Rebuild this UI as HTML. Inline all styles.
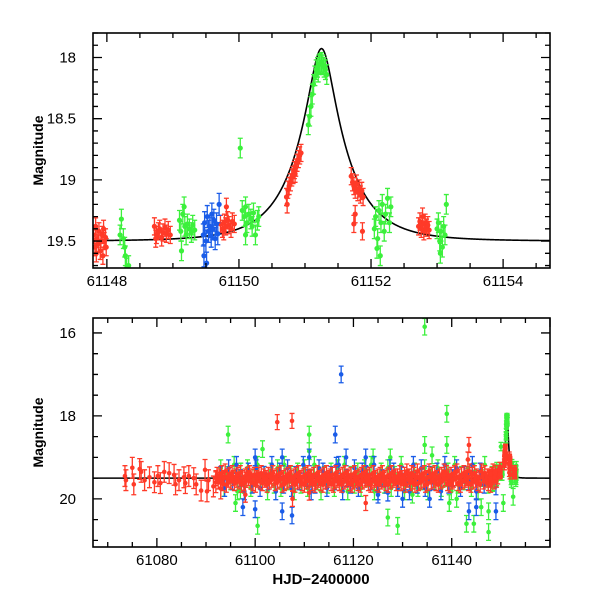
<!DOCTYPE html>
<html><head><meta charset="utf-8"><style>
html,body{margin:0;padding:0;background:#fff}
svg{display:block}
text{font-family:"Liberation Sans",sans-serif;fill:#000}
</style></head><body>
<svg id="chart" width="600" height="600" viewBox="0 0 600 600" xmlns="http://www.w3.org/2000/svg"></svg>
<script>
// ---- data ----
const topRed=[[61147.80,19.45],[61147.82,19.55],[61147.84,19.60],[61147.85,19.48],[61147.87,19.52],[61147.88,19.42],[61147.90,19.58],[61147.91,19.50],[61147.93,19.45],[61147.94,19.62],[61147.96,19.50],[61147.98,19.47],[61147.99,19.55],[61147.83,19.38],[61147.95,19.40],
[61148.72,19.38],[61148.75,19.45],[61148.78,19.42],[61148.80,19.40],[61148.83,19.47],[61148.85,19.43],[61148.88,19.39],[61148.90,19.44],[61148.93,19.41],[61148.96,19.45],[61148.74,19.48],
[61149.72,19.36],[61149.75,19.40],[61149.78,19.35],[61149.80,19.38],[61149.83,19.33],[61149.85,19.37],[61149.88,19.40],[61149.90,19.34],[61149.93,19.36],[61149.81,19.22],[61149.77,19.42],
[61150.72,19.14],[61150.74,19.08],[61150.76,19.05],[61150.78,19.02],[61150.80,18.98],[61150.82,18.96],[61150.84,18.92],[61150.86,18.90],[61150.88,18.86],[61150.90,18.83],[61150.92,18.80],[61150.94,18.78],[61150.73,19.20],[61150.85,18.95],
[61151.70,18.97],[61151.72,19.02],[61151.74,19.05],[61151.76,19.08],[61151.78,19.03],[61151.80,19.10],[61151.82,19.07],[61151.84,19.12],[61151.86,19.09],[61151.88,19.14],[61151.74,19.36],[61151.87,19.42],[61151.76,19.28],
[61152.72,19.38],[61152.74,19.34],[61152.76,19.40],[61152.78,19.36],[61152.80,19.42],[61152.82,19.35],[61152.84,19.39],[61152.86,19.37],[61152.88,19.41],[61152.78,19.30]];
const topGreen=[[61148.20,19.45],[61148.22,19.32],[61148.25,19.48],[61148.27,19.55],[61148.30,19.72],[61148.33,19.70],[61148.28,19.62],
[61149.10,19.33],[61149.12,19.42],[61149.15,19.28],[61149.18,19.38],[61149.20,19.45],[61149.22,19.36],[61149.25,19.40],[61149.28,19.43],[61149.30,19.37],[61149.33,19.41],[61149.13,19.58],[61149.17,19.22],
[61150.02,18.74],[61150.05,19.25],[61150.08,19.30],[61150.10,19.22],[61150.12,19.35],[61150.15,19.28],[61150.18,19.32],[61150.20,19.38],[61150.22,19.27],[61150.25,19.45],[61150.28,19.33],[61150.30,19.30],[61150.10,19.45],
[61151.05,18.55],[61151.07,18.48],[61151.09,18.40],[61151.11,18.30],[61151.13,18.22],[61151.15,18.15],[61151.17,18.10],[61151.19,18.08],[61151.21,18.06],[61151.23,18.05],[61151.25,18.04],[61151.27,18.06],[61151.29,18.08],[61151.31,18.10],[61151.33,18.14],[61151.20,18.12],
[61152.05,19.40],[61152.07,19.30],[61152.10,19.48],[61152.12,19.25],[61152.15,19.35],[61152.17,19.20],[61152.20,19.42],[61152.22,19.28],[61152.25,19.15],[61152.28,19.35],[61152.30,19.22],[61152.14,19.62],[61152.09,19.56],
[61153.00,19.40],[61153.02,19.35],[61153.04,19.50],[61153.06,19.42],[61153.08,19.55],[61153.10,19.38],[61153.12,19.45],[61153.14,19.20],[61153.05,19.60]];
const topBlue=[[61149.46,19.45],[61149.48,19.35],[61149.50,19.50],[61149.52,19.30],[61149.54,19.42],[61149.56,19.38],[61149.58,19.46],[61149.60,19.40],[61149.62,19.33],[61149.64,19.48],[61149.66,19.36],[61149.68,19.44],[61149.70,19.20],[61149.47,19.62],[61149.51,19.68],[61149.59,19.28]];
const earlyRed=[[61073.5,19.45],[61073.7,19.55],[61075,19.25],[61075.3,19.65],[61076.5,19.28],[61076.8,19.35],[61077.5,19.55],[61078.5,19.48],[61079.5,19.6],[61080.2,19.45],[61080.7,19.62],[61081.5,19.35],[61082.5,19.38],[61083.5,19.42],[61083.8,19.65],[61084.5,19.55],[61085.5,19.48],[61085.8,19.62],[61086.5,19.45],[61087.5,19.5],[61088,19.65],[61089,19.8],[61089.8,19.3],[61090.2,19.82],[61090.5,19.55],[61091.5,19.7],[61092,19.6],[61093,19.75]];
const denseStart=61092, denseStep=0.237;
const redDigits="537462851946372584637295846352748395637284659374625847362958473625849372658493726548397265849372654839726584937265483972658493726548397265849372658493726548462857391648273951847362958147362859473615284937625184937265481937264859137264859317264";
const blueStart=61093, blueStep=0.8;
const blueDigits="48261593728461937284615972384619572834619572384691728463917528461937";
const greenStart=61093, greenStep=0.68;
const greenDigits="284619372851649372816493728516947382619473825196372846195738629462853917462839517";
const bottomOutliers={red:[[61104.5,18.15],[61107.5,18.12],[61107.6,20.0],[61143.5,18.7],[61143.3,19.05],[61122.5,20.1],[61098,19.9],[61111,19.85]],
blue:[[61117.5,17.0],[61116.3,18.45],[61116.5,19.2],[61118.5,19.0],[61097.5,20.2],[61100,20.25],[61105.5,20.3],[61107.5,20.4],[61122.5,19.0],[61127,19.85],[61130,20.0],[61135.5,20.0],[61143.5,20.3],[61145,20.2],[61149,20.3],[61149,19.7],[61100,19.0],[61105.5,19.0],[61111,19.0],[61125,19.9]],
green:[[61134.5,15.85],[61094.5,18.45],[61111,18.45],[61111,18.85],[61101.5,18.8],[61134.5,18.7],[61139,17.95],[61139,18.7],[61136,18.95],[61124,19.0],[61127.5,19.0],[61096,20.1],[61100.5,20.65],[61129,20.65],[61127,20.45],[61143,20.6],[61144.5,20.6],[61147.5,20.8],[61147.5,20.3],[61139.5,20.1],[61141,20.0],[61146,20.2],[61150.5,20.1],[61152.5,19.95],[61132,19.9],[61097,19.8]]};
// ---- drawing ----
const svg=document.getElementById('chart');
const NS='http://www.w3.org/2000/svg';
const COL={red:'#ff3a28',green:'#3cf03c',blue:'#1a5ce8'};
function mk(tag,attrs,parent){const e=document.createElementNS(NS,tag);for(const k in attrs)e.setAttribute(k,attrs[k]);(parent||svg).appendChild(e);return e;}
function model(t){const u0=0.24,tE=0.75,t0=61151.25;const u=Math.sqrt(u0*u0+((t-t0)/tE)**2);const A=(u*u+2)/(u*Math.sqrt(u*u+4));return 19.5-2.5*Math.log10(A);}
function panel(cfg){
  const g=mk('g',{});
  
  
  const X=t=>cfg.L+(t-cfg.x0)/(cfg.x1-cfg.x0)*(cfg.R-cfg.L);
  const Y=m=>cfg.T+(m-cfg.y0)/(cfg.y1-cfg.y0)*(cfg.B-cfg.T);
  const clip='clip-'+cfg.name;
  const cp=mk('clipPath',{id:clip},g);mk('rect',{x:cfg.L,y:cfg.T,width:cfg.R-cfg.L,height:cfg.B-cfg.T},cp);
  const plot=mk('g',{'clip-path':'url(#'+clip+')'},g);
  let d='';for(let t=cfg.x0;t<=cfg.x1;t+=(cfg.x1-cfg.x0)/1500){d+=(d?'L':'M')+X(t).toFixed(2)+','+Y(model(t)).toFixed(2);}
  const mc=mk('path',{d:d,fill:'none',stroke:'#000','stroke-width':1.6},plot);
  
  
  cfg.series.forEach(s=>{
    const sg=mk('g',{stroke:COL[s.c],fill:COL[s.c],'stroke-width':1.3},plot);
    
    
    s.pts.forEach(p=>{
      const x=X(p[0]),y=Y(p[1]),e=p[2]||s.e;
      const ya=Y(p[1]-e),yb=Y(p[1]+e);
      mk('path',{d:`M${x},${ya}V${yb}M${x-2.5},${ya}h5M${x-2.5},${yb}h5`,fill:'none'},sg);
      const c=mk('circle',{cx:x,cy:y,r:cfg.r,stroke:'none'},sg);
      
      
    });
  });
  mk('rect',{x:cfg.L,y:cfg.T,width:cfg.R-cfg.L,height:cfg.B-cfg.T,fill:'none',stroke:'#000','stroke-width':1.6},g);
  let td='';
  const eps=1e-6;
  for(let v=Math.ceil(cfg.x0/cfg.xm)*cfg.xm;v<=cfg.x1;v+=cfg.xm){const x=X(v);const maj=Math.abs(v/cfg.xM-Math.round(v/cfg.xM))<eps;const l=maj?9:5;td+=`M${x},${cfg.B}v${-l}M${x},${cfg.T}v${l}`;}
  for(let v=Math.ceil(cfg.y0/cfg.ym-eps)*cfg.ym;v<=cfg.y1;v+=cfg.ym){const y=Y(v);const maj=Math.abs(v/cfg.yM-Math.round(v/cfg.yM))<1e-4;const l=maj?9:5;td+=`M${cfg.L},${y}h${l}M${cfg.R},${y}h${-l}`;}
  mk('path',{d:td,stroke:'#000','stroke-width':1.3,fill:'none'},g);
  cfg.xt.forEach(v=>{const t=mk('text',{x:X(v),y:cfg.B+18,'text-anchor':'middle','font-size':15},g);t.textContent=v;});
  cfg.yt.forEach(v=>{const t=mk('text',{x:cfg.L-17,y:Y(v)+5,'text-anchor':'end','font-size':15},g);t.textContent=v;});
  const yl=mk('text',{x:0,y:0,transform:`translate(${cfg.L-50},${(cfg.T+cfg.B)/2}) rotate(-90)`,'text-anchor':'middle','font-size':14,'font-weight':'bold'},g);
  yl.textContent='Magnitude';
  
  
}
panel({name:'top-panel',L:93,R:550,T:33,B:268,x0:61147.79,x1:61154.71,y0:17.80,y1:19.72,xm:0.5,xM:2,ym:0.1,yM:0.5,r:2.6,
  xt:[61148,61150,61152,61154],yt:[18,18.5,19,19.5],
  series:[{c:'red',k:'top',pts:topRed,e:0.07},{c:'green',k:'top',pts:topGreen,e:0.08},{c:'blue',k:'top',pts:topBlue,e:0.09}]});
function fromDigits(start,step,digits,scale){return digits.split('').map((d,i)=>[start+i*step,19.5+(+d-5)*scale]);}
const redDense=fromDigits(denseStart,denseStep,redDigits,0.04);
const blueDense=fromDigits(blueStart,blueStep,blueDigits,0.08);
const greenDense=fromDigits(greenStart,greenStep,greenDigits,0.08);
panel({name:'bottom-panel',L:93,R:550,T:318,B:547,x0:61067,x1:61160,y0:15.64,y1:21.16,xm:5,xM:20,ym:0.5,yM:2,r:2.3,
  xt:[61080,61100,61120,61140],yt:[16,18,20],
  series:[{c:'green',k:'base',pts:greenDense.concat(bottomOutliers.green),e:0.2},{c:'blue',k:'base',pts:blueDense.concat(bottomOutliers.blue),e:0.2},
          {c:'green',k:'peak',pts:topGreen,e:0.1},{c:'red',k:'early',pts:earlyRed,e:0.25},{c:'red',k:'base',pts:redDense.concat(bottomOutliers.red),e:0.18},{c:'red',k:'peak',pts:topRed,e:0.1}]});
const xl=mk('text',{x:321,y:584,'text-anchor':'middle','font-size':15,'font-weight':'bold'});
xl.textContent='HJD−2400000';


</script>
</body></html>
